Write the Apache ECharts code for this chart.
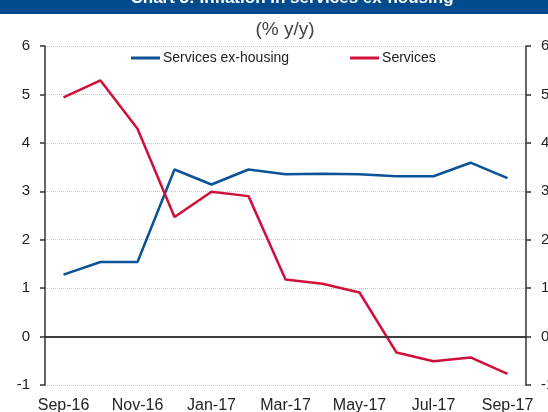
<!DOCTYPE html>
<html>
<head>
<meta charset="utf-8">
<script src="https://cdn.jsdelivr.net/npm/echarts@6/dist/echarts.min.js"></script>
<style>
  html, body { margin: 0; padding: 0; background: #fff; }
  #chart { width: 548px; height: 412px; }
</style>
</head>
<body>
<div id="chart"></div>
<script>
var chart = echarts.init(document.getElementById('chart'));

// monthly, Sep-16 .. Sep-17
var months = ['Sep-16', 'Oct-16', 'Nov-16', 'Dec-16', 'Jan-17', 'Feb-17', 'Mar-17',
  'Apr-17', 'May-17', 'Jun-17', 'Jul-17', 'Aug-17', 'Sep-17'];
var exHousing = [1.28, 1.54, 1.54, 3.45, 3.14, 3.45, 3.35, 3.36, 3.35, 3.31, 3.31, 3.59, 3.27];
var services = [4.94, 5.29, 4.29, 2.47, 2.99, 2.90, 1.18, 1.09, 0.91, -0.33, -0.51, -0.43, -0.77];

var blue = '#0B5296';
var red = '#D0103A';
var axisCol = '#333';
var font = 'Liberation Sans, Arial, sans-serif';

function yAxis(pos) {
  return {
    type: 'value',
    position: pos,
    min: -1,
    max: 6,
    interval: 1,
    axisLine: { show: true, lineStyle: { color: axisCol, width: 1.5 } },
    axisTick: { show: true, length: 5, lineStyle: { color: axisCol, width: 1.5 } },
    axisLabel: { color: '#222', fontSize: 15, fontFamily: font, margin: 15 },
    splitLine: pos == 'left' ? { show: true, lineStyle: { color: '#c4c4c4', type: 'dotted', width: 1 } } : { show: false }
  };
}

var option = {
  animation: false,
  backgroundColor: '#fff',
  grid: { left: 45, right: 22, top: 46, bottom: 27, outerBoundsMode: 'none', containLabel: false },
  graphic: [
    { type: 'rect', shape: { x: 0, y: 0, width: 548, height: 14 }, style: { fill: '#004B8D' } },
    {
      type: 'text', x: 292, y: 7,
      style: { text: 'Chart 3: Inflation in services ex-housing', fill: '#fff', font: 'bold 17px ' + font, textAlign: 'center', textVerticalAlign: 'bottom' }
    },
    {
      type: 'text', x: 285, y: 20,
      style: { text: '(% y/y)', fill: '#444', font: '19px ' + font, textAlign: 'center', textVerticalAlign: 'top' }
    }
  ],
  legend: {
    top: 46,
    left: 126,
    itemWidth: 29,
    itemHeight: 3,
    itemGap: 61,
    icon: 'rect',
    textStyle: { color: '#222', fontSize: 14, fontFamily: font, padding: [0, 0, 0, -2] },
    data: ['Services ex-housing', 'Services']
  },
  xAxis: {
    type: 'category',
    data: months,
    boundaryGap: true,
    axisLine: { lineStyle: { color: axisCol, width: 1.5 } },
    axisTick: { interval: 1, length: 5, lineStyle: { color: axisCol, width: 1.5 } },
    axisLabel: { interval: 1, color: '#222', fontSize: 16, fontFamily: font, margin: 13 },
    splitLine: { show: false }
  },
  yAxis: [yAxis('left'), yAxis('right')],
  series: [
    {
      name: 'Services ex-housing',
      type: 'line',
      data: exHousing,
      symbol: 'none',
      lineStyle: { color: blue, width: 2.5 },
      itemStyle: { color: blue },
      markLine: {
        silent: true,
        symbol: 'none',
        label: { show: false },
        lineStyle: { color: axisCol, type: 'solid', width: 1.5 },
        data: [{ yAxis: 0 }]
      }
    },
    {
      name: 'Services',
      type: 'line',
      data: services,
      symbol: 'none',
      lineStyle: { color: red, width: 2.5 },
      itemStyle: { color: red }
    }
  ]
};

chart.setOption(option);
</script>
</body>
</html>
